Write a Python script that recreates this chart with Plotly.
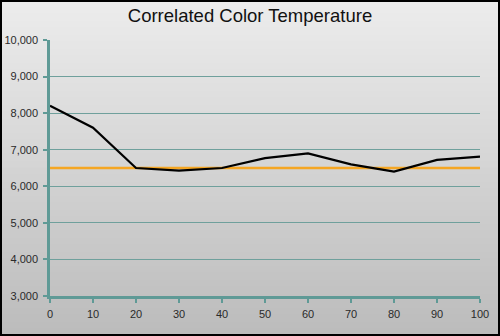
import plotly.graph_objects as go

x_vals = [0, 10, 20, 30, 40, 50, 60, 70, 80, 90, 100]
cct = [8200, 7600, 6500, 6430, 6500, 6770, 6900, 6600, 6400, 6720, 6810]
target = [6500] * len(x_vals)
y_ticks = [3000, 4000, 5000, 6000, 7000, 8000, 9000, 10000]
y_labels = ["3,000", "4,000", "5,000", "6,000", "7,000", "8,000", "9,000", "10,000"]

W, H = 500, 336
L, R, T, B = 50, 20, 40, 40
pw, ph = W - L - R, H - T - B

fig = go.Figure()
fig.add_trace(go.Scatter(x=x_vals, y=target, mode="lines",
                         line=dict(color="#f5a623", width=2.5), hoverinfo="skip"))
fig.add_trace(go.Scatter(x=x_vals, y=cct, mode="lines",
                         line=dict(color="#000000", width=2.2)))

# gradient background bands
shapes = []
n = 48
top = (236, 236, 236)
bot = (188, 188, 188)
y_top = 1 + T / ph
y_bot = -B / ph
span = y_top - y_bot
for i in range(n):
    t = i / (n - 1)
    c = tuple(int(round(top[k] + (bot[k] - top[k]) * t)) for k in range(3))
    shapes.append(dict(type="rect", xref="paper", yref="paper",
                       x0=-L / pw - 0.01, x1=1 + R / pw + 0.01,
                       y1=y_top - i * span / n + 0.002, y0=y_top - (i + 1) * span / n - 0.002,
                       fillcolor="rgb(%d,%d,%d)" % c, line=dict(width=0), layer="below"))
# outer black border
shapes.append(dict(type="rect", xref="paper", yref="paper",
                   x0=-L / pw + 1 / pw, x1=1 + R / pw - 1 / pw,
                   y0=y_bot + 1 / ph, y1=y_top - 1 / ph,
                   line=dict(color="#000000", width=2), fillcolor="rgba(0,0,0,0)", layer="above"))
fig.update_layout(shapes=shapes)

fig.update_layout(
    width=W, height=H,
    margin=dict(l=L, r=R, t=T, b=B, autoexpand=False),
    paper_bgcolor="#d8d8d8",
    plot_bgcolor="rgba(0,0,0,0)",
    showlegend=False,
    title=dict(text="Correlated Color Temperature", x=0.5, xanchor="center",
               y=0.955, yanchor="middle",
               font=dict(family="Liberation Sans, Arial", size=18.5, color="#111111")),
    font=dict(family="Liberation Sans, Arial", size=11, color="#2a2a2a"),
    xaxis=dict(range=[0, 100], tickvals=x_vals, showgrid=False, zeroline=False,
               showline=True, linecolor="#5f9a96", linewidth=2.5, automargin=False,
               ticks="outside", ticklen=4, tickcolor="#5f9a96", tickwidth=2,
               ticklabelstandoff=2, fixedrange=True),
    yaxis=dict(range=[3000, 10000], tickvals=y_ticks, ticktext=y_labels,
               showgrid=True, gridcolor="#6fa09c", gridwidth=1, zeroline=False,
               showline=True, linecolor="#5f9a96", linewidth=2.5, automargin=False,
               ticks="outside", ticklen=4, tickcolor="#5f9a96", tickwidth=2,
               ticklabelstandoff=3, fixedrange=True),
)

fig.write_html("out.html")
